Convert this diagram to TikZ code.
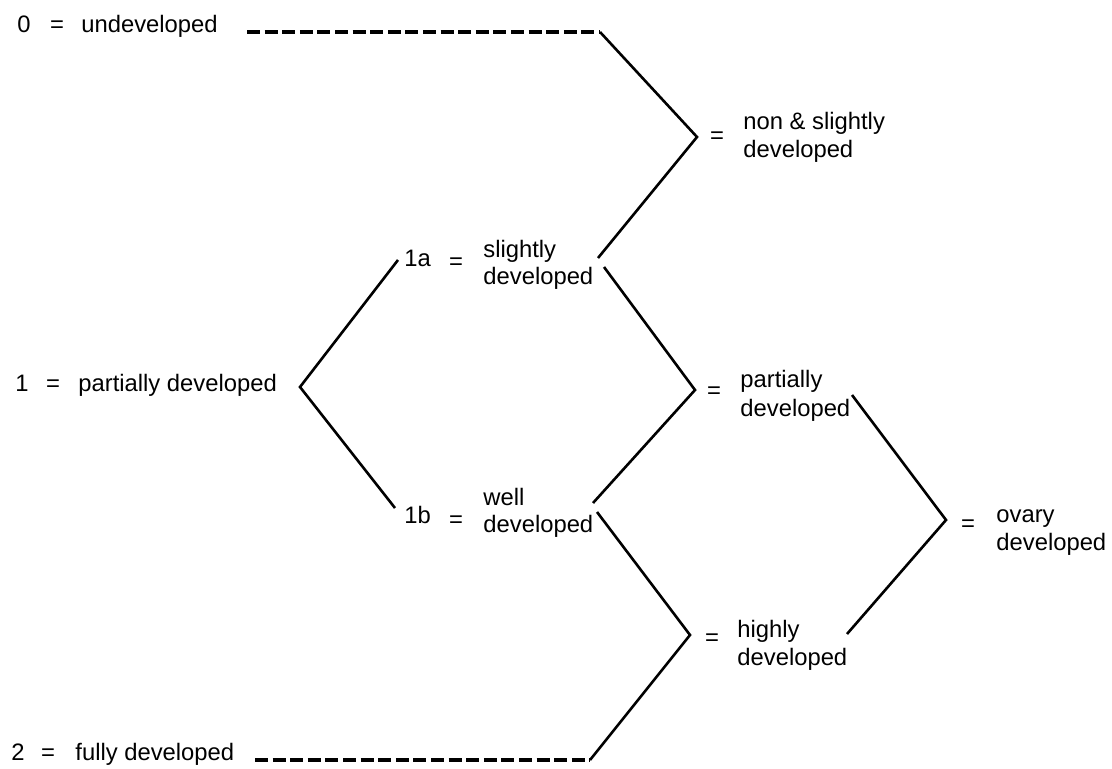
\documentclass[tikz,border=0pt]{standalone}
\usepackage{fontspec}
\setmainfont{Liberation Sans}
\usepackage{tikz}

\tikzset{
    lab/.style={inner sep=0pt, anchor=base west, font=\fontsize{11.9}{14}\selectfont, text=black},
    eq/.style={inner sep=0pt, anchor=base, font=\fontsize{11.9}{14}\selectfont, text=black},
    bracket/.style={line width=1.3pt, line join=miter},
    dashline/.style={line width=2.1pt, dash pattern=on 6.5pt off 2.3pt}
}

\begin{document}
\begin{tikzpicture}[x=0.5pt, y=-0.5pt]
    \useasboundingbox (0,0) rectangle (1112,769);

    % Left scores
    \foreach \n/\y/\nx/\ex/\tx/\txt in {
        0/33/17/57/81/undeveloped,
        1/392/15/53/78/partially developed,
        2/760/11/48/75/fully developed} {
        \node [lab] (num\n) at (\nx,\y) {\n};
        \node [eq] (eq\n) at (\ex,\y) {=};
        \node [lab] (txt\n) at (\tx,\y) {\txt};
    }

    % Split of score 1
    \node [lab] (num1a) at (404,267) {1a};
    \node [eq] (eq1a) at (456,270) {=};
    \node [lab] (sl1) at (483,258) {slightly};
    \node [lab] (sl2) at (483,285) {developed};
    \node [lab] (num1b) at (404,523) {1b};
    \node [eq] (eq1b) at (456,527) {=};
    \node [lab] (wd1) at (483,505) {well};
    \node [lab] (wd2) at (483,532) {developed};

    % Merged classes
    \foreach \id/\ex/\ey/\tx/\ty/\first in {
        ns/717/144/743/130/non \& slightly,
        pd/714/399/740/388/partially,
        hd/712/645/737/637/highly,
        od/968/531/996/522/ovary} {
        \node [eq] (eq\id) at (\ex,\ey) {=};
        \node [lab] (\id1) at (\tx,\ty) {\first};
        \node [lab] (\id2) at (\tx,\ty+28) {developed};
    }

    % Bracket corners and tips
    \coordinate (d0) at (247,32);
    \coordinate (d2) at (255,760);
    \coordinate (a1) at (600,32);
    \coordinate (v1) at (697,137);
    \coordinate (b1) at (598,258);
    \coordinate (a2) at (604,267);
    \coordinate (v2) at (695,390);
    \coordinate (b2) at (593,503);
    \coordinate (a3) at (597,512);
    \coordinate (v3) at (690,635);
    \coordinate (b3) at (590,760);
    \coordinate (aL) at (398,260);
    \coordinate (vL) at (300,387);
    \coordinate (bL) at (395,508);
    \coordinate (aR) at (852,395);
    \coordinate (vR) at (946,520);
    \coordinate (bR) at (847,634);

    % Dashed leaders
    \draw [dashline] (d0) -- (a1);
    \draw [dashline] (d2) -- (b3);

    % Brackets
    \draw [bracket] (a1) -- (v1) -- (b1);
    \draw [bracket] (a2) -- (v2) -- (b2);
    \draw [bracket] (a3) -- (v3) -- (b3);
    \draw [bracket] (aL) -- (vL) -- (bL);
    \draw [bracket] (aR) -- (vR) -- (bR);
\end{tikzpicture}
\end{document}
